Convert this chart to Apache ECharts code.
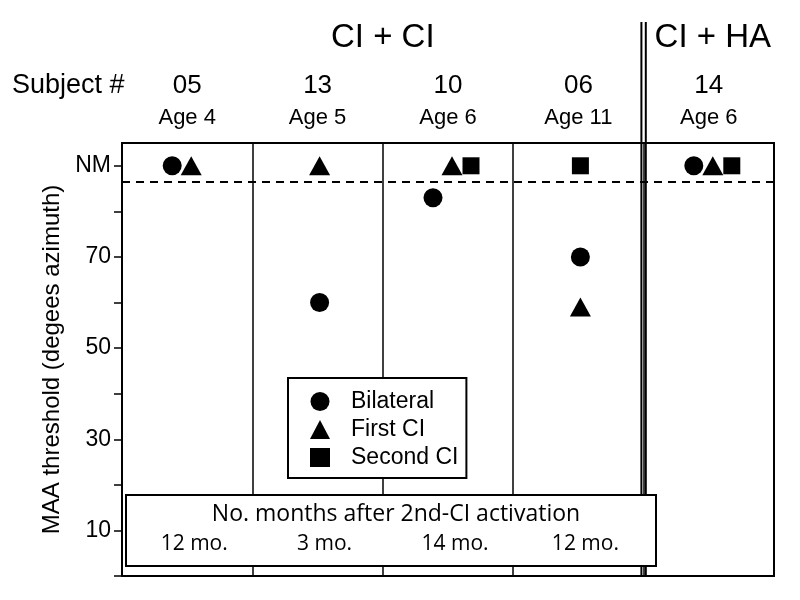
<!DOCTYPE html>
<html><head><meta charset="utf-8">
<script src="https://cdn.jsdelivr.net/npm/echarts@6/dist/echarts.min.js"></script>
<style>html,body{margin:0;padding:0;background:#fff}#c{width:800px;height:600px}</style>
</head><body><div id="c"></div>
<script>
// ---- data ----
const subjects = ['05', '13', '10', '06', '14'];
const ages = ['Age 4', 'Age 5', 'Age 6', 'Age 11', 'Age 6'];
const groupNames = ['CI + CI', 'CI + HA'];
const groupFrom = [0, 4];
const groupTo = [3, 4];
const monthsAfter = ['12 mo.', '3 mo.', '14 mo.', '12 mo.', null];
const NM = 90; // "not measurable" plotted at top
const bilateral = [NM, 60, 83, 70, NM];
const firstCI = [NM, NM, NM, 59, NM];
const secondCI = [null, null, NM, NM, NM];
const nmCriterion = 86.5;
const yTickValues = [0, 10, 20, 30, 40, 50, 60, 70, 80, 90];
const yLabelValues = [10, 30, 50, 70, 90];
const yLabelTexts = ['10', '30', '50', '70', 'NM'];

// ---- chart ----
const FONT = 'Liberation Sans';
const chart = echarts.init(document.getElementById('c'), null, { renderer: 'canvas' });

const seriesDefs = [
  { name: 'Bilateral', data: bilateral, symbol: 'circle', size: 19 },
  { name: 'First CI', data: firstCI, symbol: 'triangle', size: [21, 19] },
  { name: 'Second CI', data: secondCI, symbol: 'rect', size: 17 }
];
const slot = [-15, 4, 23];
function crowded(i) {
  const vals = seriesDefs.map(s => s.data[i]).filter(v => v != null);
  return new Set(vals).size < vals.length;
}

const option = {
  animation: false,
  backgroundColor: '#fff',
  grid: { left: 122, right: 26, top: 143, bottom: 24, show: true, borderColor: '#000', borderWidth: 2, backgroundColor: 'transparent' },
  legend: {
    orient: 'vertical', left: 288, top: 378,
    backgroundColor: '#fff', borderColor: '#000', borderWidth: 2,
    padding: [12, 8, 9, 22], itemGap: 5, itemWidth: 20, itemHeight: 19,
    textStyle: { fontFamily: FONT, fontSize: 23, color: '#000', padding: [0, 0, 0, 16] },
    itemStyle: { opacity: 1 },
    data: seriesDefs.map(s => s.name)
  },
  xAxis: [
    {
      type: 'category', data: subjects, position: 'bottom', boundaryGap: true,
      axisLine: { show: true, lineStyle: { color: '#000', width: 2 } },
      axisTick: { show: false }, axisLabel: { show: false },
      splitLine: { show: true, lineStyle: { color: '#000', width: 1.5 } }
    },
    {
      type: 'category', data: ages, position: 'top', boundaryGap: true,
      axisLine: { show: false }, axisTick: { show: false }, splitLine: { show: false },
      axisLabel: { interval: 0, fontFamily: FONT, fontSize: 22, color: '#000', margin: 14 }
    },
    {
      type: 'category', data: subjects, position: 'top', offset: 36, boundaryGap: true,
      axisLine: { show: false }, axisTick: { show: false }, splitLine: { show: false },
      axisLabel: { interval: 0, fontFamily: FONT, fontSize: 26, color: '#000', margin: 8 }
    }
  ],
  yAxis: {
    type: 'value', min: 0, max: 95, interval: 10,
    name: 'MAA threshold (degees azimuth)', nameLocation: 'middle', nameGap: 52,
    nameTextStyle: { fontFamily: FONT, fontSize: 24, color: '#000' },
    axisLine: { show: true, lineStyle: { color: '#000', width: 2 } },
    axisTick: { show: true, customValues: yTickValues, length: 8, lineStyle: { color: '#000', width: 1.5 } },
    axisLabel: {
      customValues: yLabelValues, margin: 11, fontFamily: FONT, fontSize: 23, color: '#000',
      formatter: v => { const k = yLabelValues.indexOf(v); return k >= 0 ? yLabelTexts[k] : ''; }
    },
    splitLine: { show: false }
  },
  series: seriesDefs.map((s, k) => ({
    type: 'scatter', name: s.name, symbol: s.symbol, symbolSize: s.size, z: 5,
    itemStyle: { color: '#000', opacity: 1 },
    data: s.data.map((v, i) => v == null ? [i, '-'] : { value: [i, v], symbolOffset: [crowded(i) ? slot[k] : 2, 0] }),
    markLine: k === 0 ? {
      silent: true, symbol: 'none', label: { show: false },
      lineStyle: { color: '#000', width: 2, type: [8, 6], opacity: 1 },
      data: [{ yAxis: nmCriterion }]
    } : undefined
  }))
};
chart.setOption(option);

// annotations positioned from the axes' scales
const px = i => chart.convertToPixel({ xAxisIndex: 0 }, i);
const graphics = [];
groupNames.forEach((g, j) => {
  const cx = (px(groupFrom[j]) + px(groupTo[j])) / 2 + (j === 1 ? 4 : 0);
  graphics.push({ type: 'text', x: cx, y: 38, z: 10, style: { text: g, font: '33px ' + FONT, fill: '#000', textAlign: 'center', textVerticalAlign: 'middle' } });
});
graphics.push({ type: 'text', x: 12, y: 86, z: 10, style: { text: 'Subject #', font: '27px ' + FONT, fill: '#000', textAlign: 'left', textVerticalAlign: 'middle' } });
// thick double divider between CI+CI and CI+HA
const divX = (px(3) + px(4)) / 2;
[-2.2, 2.2].forEach(d => graphics.push({ type: 'line', z: 8, shape: { x1: divX + d, y1: 22, x2: divX + d, y2: 577 }, style: { stroke: '#000', lineWidth: 2 } }));
// months box
graphics.push({ type: 'rect', z: 20, shape: { x: 126, y: 495, width: 530, height: 71 }, style: { fill: '#fff', stroke: '#000', lineWidth: 2 } });
graphics.push({ type: 'text', x: 396, y: 514, z: 21, style: { text: 'No. months after 2nd-CI activation', font: '23px "Open Sans"', fill: '#000', textAlign: 'center', textVerticalAlign: 'middle' } });
monthsAfter.forEach((m, i) => {
  if (m == null) return;
  graphics.push({ type: 'text', x: px(i) + 7, y: 544, z: 21, style: { text: m, font: '21px "Open Sans"', fill: '#000', textAlign: 'center', textVerticalAlign: 'middle' } });
});
chart.setOption({ graphic: graphics });
</script></body></html>
